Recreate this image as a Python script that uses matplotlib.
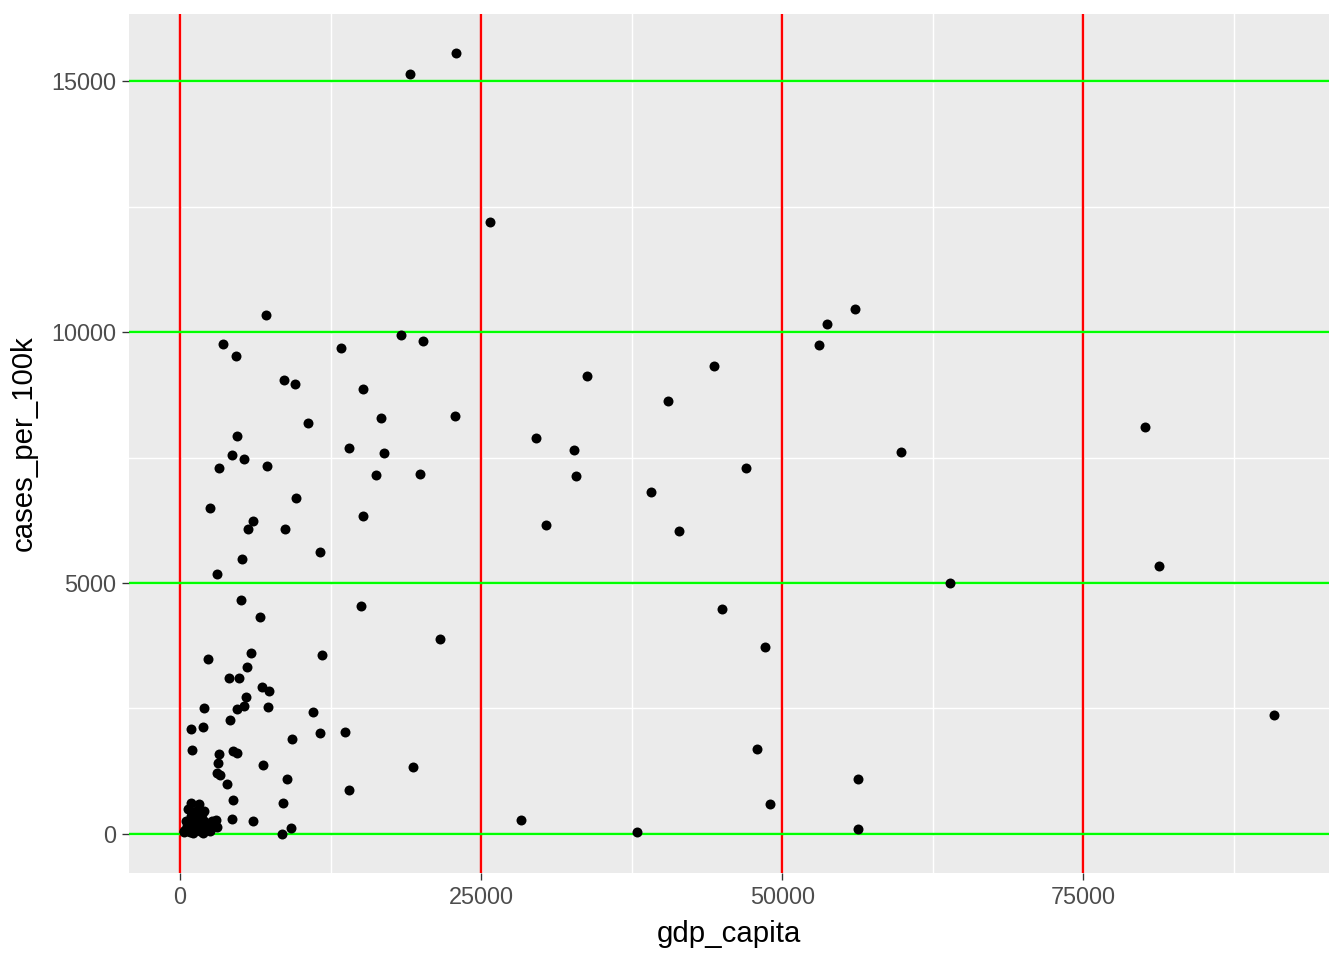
import matplotlib
matplotlib.use("Agg")
import matplotlib.pyplot as plt
import numpy as np

gdp_capita = [
    22920, 19100, 25750, 7140, 56060, 53740, 53070, 18360, 20180, 13370,
    3570, 4650, 44350, 33800, 8640, 9550, 15200, 40530, 80150, 22840,
    16690, 10630, 4730, 29570, 14040, 32720, 4320, 16940, 59880, 5320,
    3240, 7230, 47010, 16280, 19930, 32890, 39120, 9630, 2490, 15200,
    30400, 6060, 5650, 8720, 41450, 11630, 5150, 81310, 3070, 63950,
    5070, 15030, 45020, 6640, 21590, 48590, 11790, 5900, 2330, 5560,
    4070, 4900, 6810, 7390, 5480, 1990, 4730, 5320, 7310, 11050,
    90860, 4150, 1910, 910, 11630, 13700, 9300, 1000, 4400, 4730,
    3240, 47920, 3150, 6890, 19350, 3070, 3320, 3900, 56310, 8890,
    14040, 4400, 8550, 49000, 4320, 6060, 28320, 9220, 8470, 37960,
    56310,
    350, 400, 600, 800, 1000, 1200, 1500, 1700, 900, 1300,
    1600, 900, 1800, 2000, 2300, 2500, 2900, 3000, 500, 700,
    1100, 1400, 2200, 3100, 300, 1900, 1700, 2000, 2700,
]
cases_per_100k = [
    15560, 15140, 12190, 10340, 10460, 10160, 9740, 9940, 9820, 9680,
    9760, 9520, 9320, 9120, 9040, 8960, 8860, 8630, 8110, 8330,
    8290, 8190, 7930, 7890, 7690, 7650, 7550, 7590, 7610, 7470,
    7290, 7330, 7290, 7150, 7170, 7130, 6810, 6690, 6490, 6330,
    6160, 6240, 6080, 6080, 6040, 5620, 5480, 5340, 5180, 5000,
    4660, 4540, 4480, 4320, 3880, 3730, 3570, 3610, 3490, 3330,
    3110, 3110, 2930, 2850, 2730, 2510, 2490, 2550, 2530, 2430,
    2370, 2270, 2130, 2090, 2010, 2030, 1890, 1670, 1650, 1610,
    1590, 1690, 1410, 1370, 1330, 1220, 1180, 1000, 1100, 1100,
    880, 680, 620, 600, 300, 260, 280, 120, 0, 40,
    100,
    30, 80, 150, 40, 200, 100, 300, 50, 350, 450,
    600, 620, 400, 250, 150, 50, 180, 280, 250, 500,
    20, 150, 80, 130, 60, 10, 200, 450, 250,
]

x_breaks = [0, 25000, 50000, 75000]
y_breaks = [0, 5000, 10000, 15000]

fig = plt.figure(figsize=(7, 5), dpi=192)
ax = fig.add_axes([129/1344, 1-873/960, (1329-129)/1344, (873-14)/960])
ax.set_facecolor("#EBEBEB")

x = np.array(gdp_capita, float)
y = np.array(cases_per_100k, float)
xr = x.max() - x.min(); yr = y.max() - y.min()
ax.set_xlim(x.min() - 0.05*xr, x.max() + 0.05*xr)
ax.set_ylim(y.min() - 0.05*yr, y.max() + 0.05*yr)

ax.set_xticks(x_breaks)
ax.set_yticks(y_breaks)
ax.set_xticks([12500, 37500, 62500, 87500], minor=True)
ax.set_yticks([2500, 7500, 12500], minor=True)
ax.grid(which="major", color="white", linewidth=1.07)
ax.grid(which="minor", color="white", linewidth=0.53)
ax.set_axisbelow(True)
for s in ax.spines.values():
    s.set_visible(False)

for v in x_breaks:
    ax.axvline(v, color="#FF0000", linewidth=0.9, zorder=1.5)
for h in y_breaks:
    ax.axhline(h, color="#00FF00", linewidth=0.9, zorder=1.5)

ax.scatter(x, y, s=14, color="black", linewidths=0, zorder=3)

ax.tick_params(which="major", length=2.75, width=0.5, color="#333333",
               labelsize=8.8, labelcolor="#4D4D4D", pad=2.2)
ax.tick_params(which="minor", length=0)
ax.set_xticklabels([str(v) for v in x_breaks])
ax.set_yticklabels([str(v) for v in y_breaks])
for lab in ax.get_xticklabels() + ax.get_yticklabels():
    lab.set_fontfamily("Liberation Sans")
ax.set_xlabel("gdp_capita", fontsize=11, fontfamily="Liberation Sans", labelpad=4)
ax.set_ylabel("cases_per_100k", fontsize=11, fontfamily="Liberation Sans", labelpad=5)

fig.savefig("out.png", dpi=192)
